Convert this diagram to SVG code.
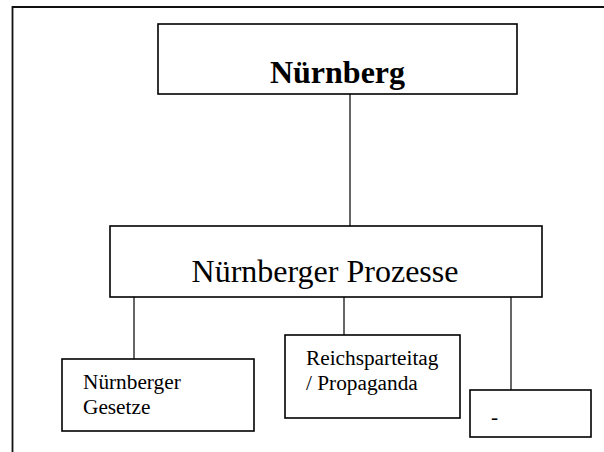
<svg xmlns="http://www.w3.org/2000/svg" width="604" height="452" viewBox="0 0 604 452">
  <style>
    .box { fill: #ffffff; stroke: #000000; stroke-width: 1.6; }
    .link { stroke: #000000; stroke-width: 1.2; fill: none; }
    .frame { stroke: #111111; stroke-width: 1.8; fill: none; }
    text { font-family: "Liberation Serif", "Times New Roman", serif; fill: #000000; }
    .title { font-size: 32px; font-weight: bold; text-anchor: middle; }
    .main { font-size: 32px; text-anchor: middle; }
    .small { font-size: 21.3px; }
  </style>
  <rect width="604" height="452" fill="#ffffff"/>

  <!-- page frame (top and left edges) -->
  <path class="frame" d="M12.5 452 V7 H604"/>

  <!-- connectors -->
  <g id="connectors">
    <line class="link" x1="350" y1="94" x2="350" y2="226"/>
    <line class="link" x1="134" y1="297" x2="134" y2="359"/>
    <line class="link" x1="344" y1="297" x2="344" y2="335"/>
    <line class="link" x1="511" y1="297" x2="511" y2="390"/>
  </g>

  <g id="nuernberg">
    <rect class="box" x="158" y="24" width="359" height="70"/>
    <text class="title" x="337.5" y="83">Nürnberg</text>
  </g>

  <g id="prozesse">
    <rect class="box" x="110" y="226" width="432" height="71"/>
    <text class="main" x="325" y="282">Nürnberger Prozesse</text>
  </g>

  <g id="gesetze">
    <rect class="box" x="62" y="359" width="192" height="72"/>
    <text class="small" x="83" y="389">Nürnberger</text>
    <text class="small" x="83" y="414">Gesetze</text>
  </g>

  <g id="reichsparteitag">
    <rect class="box" x="285" y="335" width="175" height="83"/>
    <text class="small" x="306" y="365">Reichsparteitag</text>
    <text class="small" x="306" y="390">/ Propaganda</text>
  </g>

  <g id="leer">
    <rect class="box" x="470" y="390" width="121" height="47"/>
    <text class="small" x="491" y="424">-</text>
  </g>
</svg>
